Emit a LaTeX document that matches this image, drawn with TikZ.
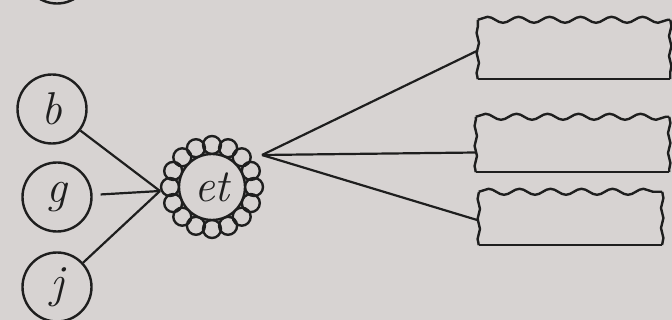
\documentclass[tikz,border=0pt]{standalone}
\usetikzlibrary{decorations.pathmorphing}
\definecolor{paper}{HTML}{D7D3D2}
\definecolor{ink}{HTML}{1E1E1E}
\begin{document}
\begin{tikzpicture}[x=1pt,y=-1pt,
  ink/.style={draw=ink,line width=2.4pt},
  letter/.style={circle,ink,minimum size=69pt,inner sep=0pt,
    font=\fontsize{46}{46}\selectfont\itshape,text=ink},
  boxnode/.style={rectangle,draw=none,inner sep=0pt},
  wavy/.style={ink,decorate,decoration={snake,amplitude=3pt,segment length=31pt}},
  wobbly/.style={ink,decorate,decoration={snake,amplitude=1.2pt,segment length=20pt}},
  conn/.style={ink,line width=2.2pt}]
\useasboundingbox (0,0) rectangle (672,320);
\fill[paper] (0,0) rectangle (672,320);
\clip (0,0) rectangle (672,320);
% left circles
\node[letter] (top) at (57,-31) {};
\node[letter] (b) at (52,109) {b};
\node[letter] (g) at (57,197) {g};
\node[letter] (j) at (57,287) {j};
% flower
\foreach \a in {0,22.5,...,359} {
  \draw[ink] (212,187) ++(\a:42) circle (9);
}
\node[circle,draw=ink,line width=2.4pt,fill=paper,minimum size=66pt,inner sep=0pt,
  font=\fontsize{46}{46}\selectfont\itshape,text=ink] (et) at (212,187) {et};
\coordinate (etL) at (160,191);
\coordinate (etR) at (262,155);
% boxes
\node[boxnode,minimum width=192pt,minimum height=59pt] (box1) at (574,49.5) {};
\node[boxnode,minimum width=193pt,minimum height=55pt] (box2) at (572.5,144.5) {};
\node[boxnode,minimum width=183pt,minimum height=53pt] (box3) at (570.5,218.5) {};
\foreach \bx in {box1,box2,box3} {
  \draw[wavy] (\bx.north west) -- (\bx.north east);
  \draw[wobbly] (\bx.north east) -- (\bx.south east);
  \draw[ink] (\bx.south east) -- (\bx.south west);
  \draw[wobbly] (\bx.south west) -- (\bx.north west);
}
% connectors
\draw[conn] (b) -- (etL);
\draw[conn,shorten <=8pt] (g) -- (etL);
\draw[conn] (j) -- (etL);
\draw[conn] (etR) -- ([yshift=-1pt]box1.west);
\draw[conn] (etR) -- ([yshift=-8pt]box2.west);
\draw[conn] (etR) -- ([yshift=-2pt]box3.west);
\end{tikzpicture}
\end{document}
